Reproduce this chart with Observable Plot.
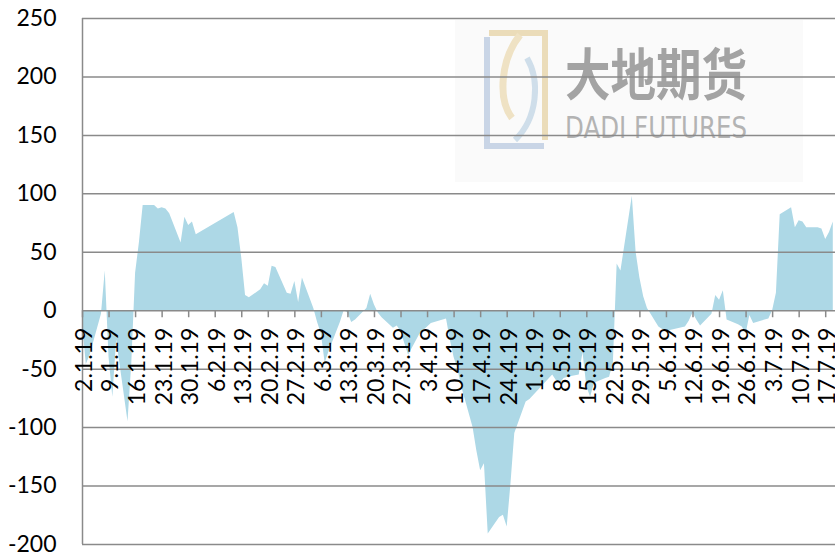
<!DOCTYPE html>
<html>
<head>
<meta charset="utf-8">
<script src="https://cdn.jsdelivr.net/npm/d3@7"></script>
<script src="https://cdn.jsdelivr.net/npm/@observablehq/plot@0.6"></script>
<style>
  html, body { margin: 0; padding: 0; background: #fff; }
  #wrap { position: relative; width: 835px; height: 553px; overflow: hidden; }
  #wm { position: absolute; left: 0; top: 0; }
  #chart { position: absolute; left: 0; top: 0; }
</style>
</head>
<body>
<div id="wrap">
  <svg id="wm" width="835" height="553" xmlns="http://www.w3.org/2000/svg">
    <rect x="455" y="20" width="348" height="162" fill="#fafafa"/>
    <path d="M489 33 H545 V140" fill="none" stroke="#ebdcb9" stroke-width="6"/>
    <path d="M520 35 C500 60 498 100 512 118" fill="none" stroke="#efe2c4" stroke-width="7"/>
    <path d="M487 37 V146 H544" fill="none" stroke="#c9d5e6" stroke-width="6"/>
    <path d="M527 58 C540 80 538 118 515 140" fill="none" stroke="#cfdeea" stroke-width="6"/>
    <text x="565" y="95" font-family="Noto Sans CJK SC" font-weight="bold" font-size="56" fill="#a3a3a3" textLength="182" lengthAdjust="spacingAndGlyphs">大地期货</text>
    <text x="565" y="138" font-family="DejaVu Sans" font-size="30" fill="#b3b3b3" textLength="182" lengthAdjust="spacingAndGlyphs">DADI FUTURES</text>
  </svg>
  <div id="chart"></div>
</div>
<script>
const dates = [
  "2019-01-02","2019-01-03","2019-01-04","2019-01-07","2019-01-08","2019-01-09","2019-01-10","2019-01-11",
  "2019-01-14","2019-01-15","2019-01-16","2019-01-17","2019-01-18","2019-01-21","2019-01-22","2019-01-23",
  "2019-01-24","2019-01-25","2019-01-28","2019-01-29","2019-01-30","2019-01-31","2019-02-01","2019-02-11",
  "2019-02-12","2019-02-13","2019-02-14","2019-02-15","2019-02-18","2019-02-19","2019-02-20","2019-02-21",
  "2019-02-22","2019-02-25","2019-02-26","2019-02-27","2019-02-28","2019-03-01","2019-03-04","2019-03-05",
  "2019-03-06","2019-03-07","2019-03-08","2019-03-11","2019-03-12","2019-03-13","2019-03-14","2019-03-15",
  "2019-03-18","2019-03-19","2019-03-20","2019-03-21","2019-03-22","2019-03-25","2019-03-26","2019-03-27",
  "2019-03-28","2019-03-29","2019-04-01","2019-04-02","2019-04-03","2019-04-04","2019-04-08","2019-04-09",
  "2019-04-10","2019-04-11","2019-04-12","2019-04-15","2019-04-16","2019-04-17","2019-04-18","2019-04-19",
  "2019-04-22","2019-04-23","2019-04-24","2019-04-25","2019-04-26","2019-04-29","2019-04-30","2019-05-06",
  "2019-05-07","2019-05-08","2019-05-09","2019-05-10","2019-05-13","2019-05-14","2019-05-15","2019-05-16",
  "2019-05-17","2019-05-20","2019-05-21","2019-05-22","2019-05-23","2019-05-24","2019-05-27","2019-05-28",
  "2019-05-29","2019-05-30","2019-05-31","2019-06-03","2019-06-04","2019-06-05","2019-06-06","2019-06-10",
  "2019-06-11","2019-06-12","2019-06-13","2019-06-14","2019-06-17","2019-06-18","2019-06-19","2019-06-20",
  "2019-06-21","2019-06-24","2019-06-25","2019-06-26","2019-06-27","2019-06-28","2019-07-01","2019-07-02",
  "2019-07-03","2019-07-04","2019-07-05","2019-07-08","2019-07-09","2019-07-10","2019-07-11","2019-07-12",
  "2019-07-15","2019-07-16","2019-07-17","2019-07-18","2019-07-19"
];
const values = [
  -10,-46,-38,-3,34,-40,-74,-25,
  -95,-45,32,58,90,90,87,88,
  87,83,58,80,73,76,65,84,
  71,45,13,11,18,23,21,38,
  37,15,14,25,7,28,2,-10,
  -20,-45,-35,-10,0,-2,-10,-8,
  2,14,5,-2,-6,-15,-13,-18,
  -28,-38,-20,-17,-14,-11,-7,-25,
  -40,-50,-65,-100,-120,-137,-131,-191,
  -177,-175,-185,-148,-105,-78,-76,-55,
  -60,-62,-58,-57,-55,-36,-65,-74,
  -62,-58,-57,-45,40,34,98,50,
  28,12,2,-14,-16,-18,-17,-14,
  -9,-2,-8,-13,-3,13,9,17,
  -8,-12,-14,-20,-4,-11,-8,-7,
  0,15,82,88,71,77,76,71,
  71,70,61,67,76
];
const tickDates = [
  "2019-01-02","2019-01-09","2019-01-16","2019-01-23","2019-01-30","2019-02-06","2019-02-13","2019-02-20",
  "2019-02-27","2019-03-06","2019-03-13","2019-03-20","2019-03-27","2019-04-03","2019-04-10","2019-04-17",
  "2019-04-24","2019-05-01","2019-05-08","2019-05-15","2019-05-22","2019-05-29","2019-06-05","2019-06-12",
  "2019-06-19","2019-06-26","2019-07-03","2019-07-10","2019-07-17"
];
const tickLabels = [
  "2.1.19","9.1.19","16.1.19","23.1.19","30.1.19","6.2.19","13.2.19","20.2.19",
  "27.2.19","6.3.19","13.3.19","20.3.19","27.3.19","3.4.19","10.4.19","17.4.19",
  "24.4.19","1.5.19","8.5.19","15.5.19","22.5.19","29.5.19","5.6.19","12.6.19",
  "19.6.19","26.6.19","3.7.19","10.7.19","17.7.19"
];
const yTicks = [-200,-150,-100,-50,0,50,100,150,200,250];
const xStart = "2019-01-02";
const xEnd = "2019-07-19T14:00:00Z";

const data = dates.map((d, i) => ({date: new Date(d), value: values[i]}));
const ticks = tickDates.map((d, i) => ({date: new Date(d), label: tickLabels[i]}));
const gridColor = "#8a8a8a";

const chart = Plot.plot({
  width: 835,
  height: 553,
  marginLeft: 82,
  marginRight: 0,
  marginTop: 18,
  marginBottom: 9,
  style: {fontFamily: "Lato, sans-serif", background: "transparent", overflow: "visible"},
  x: {type: "utc", domain: [new Date(xStart), new Date(xEnd)], axis: null},
  y: {domain: [-200, 250], axis: null},
  marks: [
    Plot.areaY(data, {x: "date", y: "value", fill: "#add8e6", clip: true}),
    Plot.gridY(yTicks, {stroke: gridColor, strokeOpacity: 1, strokeWidth: 1.5}),
    Plot.ruleX([new Date(xStart)], {stroke: gridColor, strokeWidth: 1.5}),
    Plot.ruleX(ticks, {x: "date", y1: 0, y2: -6, stroke: gridColor, strokeWidth: 1.5}),
    Plot.axisY(yTicks, {label: null, tickSize: 0, tickPadding: 26, fontSize: 23, fill: "#000", tickFormat: d => String(d)}),
    Plot.text(ticks, {x: "date", y: 0, text: "label", rotate: -90, textAnchor: "end", lineAnchor: "middle", dy: 17, dx: 2, fontSize: 23, fill: "#000"})
  ]
});
document.getElementById("chart").appendChild(chart);
</script>
</body>
</html>
